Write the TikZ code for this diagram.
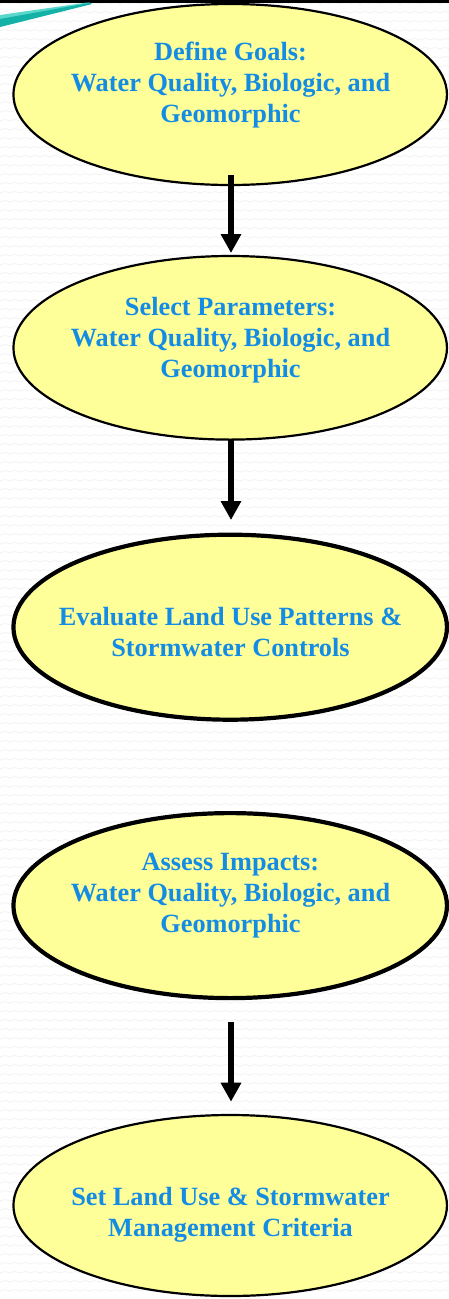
\documentclass[tikz,border=0pt]{standalone}
\usepackage{fontspec}
\setmainfont{Liberation Serif}
\usetikzlibrary{arrows.meta,shapes.geometric}

\definecolor{stagefill}{RGB}{255,255,153}
\definecolor{stagetext}{RGB}{20,140,228}
\definecolor{tealstroke}{RGB}{20,178,166}
\definecolor{tealedge}{RGB}{90,215,205}

\tikzset{
  stage/.style={ellipse, draw=black, fill=stagefill, line width=2.2pt,
    inner sep=0pt, outer sep=0pt, minimum width=433.5pt},
  stagebold/.style={stage, line width=4.2pt},
  stagetxt/.style={text=stagetext, align=center, inner sep=0pt,
    font=\bfseries\fontsize{26.3}{31}\selectfont},
  flow/.style={line width=6.6pt, draw=black,
    -{Triangle[width=19.5pt,length=19pt]}},
  bgwave/.style={draw=black!6, line width=0.6pt},
}

\begin{document}
\begin{tikzpicture}[x=1pt,y=-1pt]
  \useasboundingbox (0,0) rectangle (449,1299);
  \fill[white] (0,0) rectangle (449,1299);

  % faint woven background texture
  \foreach \y in {4,13,...,1299}{
    \draw[bgwave] (0,\y) \foreach \x in {0,10,...,440}{ -- (\x+5,\y-1.5) -- (\x+10,\y) };
  }

  % frame edge and accent stroke in the top corner
  \fill[black] (0,0) rectangle (449,2.7);
  \fill[tealedge] (0,15) -- (86,2.7) -- (90,2.7) -- (0,20) -- cycle;
  \fill[tealstroke] (0,19) -- (90,2.7) -- (92,4) -- (0,27) -- cycle;

  % process stages
  \node[stage, minimum height=181pt]     (s1) at (230.2,94.5)  {};
  \node[stage, minimum height=183.6pt]   (s2) at (230.2,347.8) {};
  \node[stagebold, minimum height=185pt] (s3) at (230.2,627.2) {};
  \node[stagebold, minimum height=185pt] (s4) at (230.2,905.6) {};
  \node[stage, minimum height=181pt]     (s5) at (230.2,1205.5) {};

  \node[stagetxt] (t1) at (230.5,85)    {Define Goals:\\Water Quality, Biologic, and\\Geomorphic};
  \node[stagetxt] (t2) at (230.5,340)   {Select Parameters:\\Water Quality, Biologic, and\\Geomorphic};
  \node[stagetxt] (t3) at (230.5,631.7) {Evaluate Land Use Patterns \&\\Stormwater Controls};
  \node[stagetxt] (t4) at (230.5,895.6) {Assess Impacts:\\Water Quality, Biologic, and\\Geomorphic};
  \node[stagetxt] (t5) at (230.5,1214.4) {Set Land Use \& Stormwater\\Management Criteria};

  % connectors
  \draw[flow] ([xshift=0.8pt,yshift=10pt]s1.south) -- ([xshift=0.8pt,yshift=3pt]s2.north);
  \draw[flow] ([xshift=0.8pt]s2.south) -- ([xshift=0.8pt,yshift=14.7pt]s3.north);
  \draw[flow] ([xshift=0.8pt,yshift=-23.7pt]s4.south) -- ([xshift=0.8pt,yshift=13.3pt]s5.north);
\end{tikzpicture}
\end{document}
